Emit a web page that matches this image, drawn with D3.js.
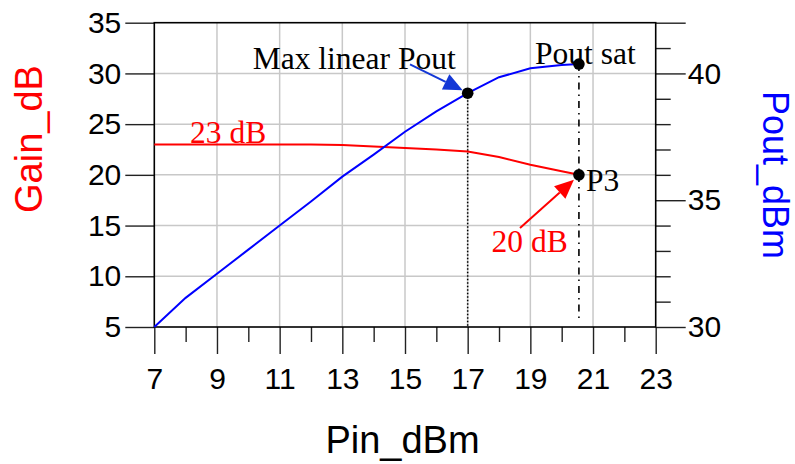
<!DOCTYPE html>
<html>
<head>
<meta charset="utf-8">
<script src="https://cdn.jsdelivr.net/npm/d3@7"></script>
<style>
  html, body { margin: 0; padding: 0; background: #fff; }
  svg { display: block; }
</style>
</head>
<body>
<svg id="chart" width="795" height="464"></svg>
<script>
// Input power sweep and the measured amplifier response
const pinDbm  = [7, 8, 9, 10, 11, 12, 13, 14, 15, 16, 17, 18, 19, 20, 20.55];
const gainDb  = [23.0, 23.0, 23.0, 23.0, 23.0, 23.0, 22.95, 22.8, 22.65, 22.5, 22.3, 21.75, 21.0, 20.35, 20.0];
const poutDbm = [30.0, 31.15, 32.1, 33.05, 34.0, 34.95, 35.93, 36.8, 37.7, 38.5, 39.22, 39.85, 40.2, 40.33, 40.37];

// Axis ticks
const xMajorTicks = [7, 9, 11, 13, 15, 17, 19, 21, 23];
const xMinorTicks = [8, 10, 12, 14, 16, 18, 20, 22];
const gainTicks   = [5, 10, 15, 20, 25, 30, 35];
const poutMajor   = [30, 35, 40, 42];
const poutLabeled = [30, 35, 40];
const poutMinor   = [31, 32, 33, 34, 36, 37, 38, 39, 41];

// Annotated operating points
const maxLinear = { pin: 17, pout: 39.22 };
const satPoint  = { pin: 20.55, pout: 40.37 };
const p3Point   = { pin: 20.55, gain: 20.0 };

const svg = d3.select("#chart");
const plotL = 154.3, plotR = 655.7, plotT = 22.7, plotB = 327;

const x = d3.scaleLinear().domain([7, 23]).range([plotL, plotR]);
const yGain = d3.scaleLinear().domain([5, 35]).range([plotB, plotT]);
const yPout = d3.scaleLinear().domain([30, 42]).range([plotB, plotT]);

const sans = "'Liberation Sans', Arial, sans-serif";
const serif = "'Liberation Serif', 'Times New Roman', serif";

// Grid
const grid = svg.append("g").attr("stroke", "#c8c8c8").attr("stroke-width", 1.5);
grid.selectAll("line.v").data(d3.range(9, 23, 2)).join("line").attr("class", "v")
  .attr("x1", d => x(d)).attr("x2", d => x(d)).attr("y1", plotT).attr("y2", plotB);
grid.selectAll("line.h").data([10, 15, 20, 25, 30]).join("line").attr("class", "h")
  .attr("y1", d => yGain(d)).attr("y2", d => yGain(d)).attr("x1", plotL).attr("x2", plotR);

function styleAxis(g, fontSize) {
  g.select(".domain").remove();
  g.selectAll(".tick line").attr("stroke", "#222").attr("stroke-width", 1.4);
  g.selectAll(".tick text").attr("fill", "#000").attr("font-family", sans).attr("font-size", fontSize);
  g.attr("font-size", null).attr("font-family", null);
}

// Bottom axis
svg.append("g").attr("transform", `translate(0,${plotB})`)
  .call(d3.axisBottom(x).tickValues(xMinorTicks).tickSize(15).tickFormat(""))
  .call(g => styleAxis(g, 30));
svg.append("g").attr("transform", `translate(0,${plotB})`)
  .call(d3.axisBottom(x).tickValues(xMajorTicks).tickSize(27).tickPadding(14).tickFormat(d3.format("d")))
  .call(g => styleAxis(g, 30));

// Left axis (gain)
svg.append("g").attr("transform", `translate(${plotL},0)`)
  .call(d3.axisLeft(yGain).tickValues(gainTicks).tickSize(29).tickPadding(4).tickFormat(d3.format("d")))
  .call(g => styleAxis(g, 30));

// Right axis (output power)
svg.append("g").attr("transform", `translate(${plotR},0)`)
  .call(d3.axisRight(yPout).tickValues(poutMinor).tickSize(15).tickFormat(""))
  .call(g => styleAxis(g, 30));
svg.append("g").attr("transform", `translate(${plotR},0)`)
  .call(d3.axisRight(yPout).tickValues(poutMajor).tickSize(30).tickPadding(2)
    .tickFormat(d => poutLabeled.includes(d) ? d3.format("d")(d) : ""))
  .call(g => styleAxis(g, 30));

// Frame
svg.append("rect").attr("x", plotL).attr("y", plotT)
  .attr("width", plotR - plotL).attr("height", plotB - plotT)
  .attr("fill", "none").attr("stroke", "#000").attr("stroke-width", 1.6);

// Reference verticals
svg.append("line")
  .attr("x1", x(maxLinear.pin)).attr("x2", x(maxLinear.pin))
  .attr("y1", yPout(maxLinear.pout)).attr("y2", plotB)
  .attr("stroke", "#000").attr("stroke-width", 1.5).attr("stroke-dasharray", "1.5,2");
svg.append("line")
  .attr("x1", x(satPoint.pin)).attr("x2", x(satPoint.pin))
  .attr("y1", yPout(satPoint.pout)).attr("y2", plotB - 8)
  .attr("stroke", "#000").attr("stroke-width", 1.6).attr("stroke-dasharray", "7,5,1.5,5");

// Curves
const pts = pinDbm.map((p, i) => ({ pin: p, gain: gainDb[i], pout: poutDbm[i] }));
svg.append("path").datum(pts)
  .attr("fill", "none").attr("stroke", "#ff0000").attr("stroke-width", 2)
  .attr("d", d3.line().x(d => x(d.pin)).y(d => yGain(d.gain)));
svg.append("path").datum(pts)
  .attr("fill", "none").attr("stroke", "#0000ff").attr("stroke-width", 2)
  .attr("d", d3.line().x(d => x(d.pin)).y(d => yPout(d.pout)));

// Arrows
function arrow(x1, y1, x2, y2, color, len, halfW) {
  const ang = Math.atan2(y2 - y1, x2 - x1);
  const bx = x2 - len * Math.cos(ang), by = y2 - len * Math.sin(ang);
  svg.append("line").attr("x1", x1).attr("y1", y1).attr("x2", bx).attr("y2", by)
    .attr("stroke", color).attr("stroke-width", 2);
  const px = -Math.sin(ang) * halfW, py = Math.cos(ang) * halfW;
  svg.append("polygon")
    .attr("points", `${x2},${y2} ${bx + px},${by + py} ${bx - px},${by - py}`)
    .attr("fill", color);
}
const mlx = x(maxLinear.pin), mly = yPout(maxLinear.pout);
arrow(410, 64.3, mlx - 5, mly - 3, "#1438d6", 19, 8.5);
const p3x = x(p3Point.pin), p3y = yGain(p3Point.gain);
arrow(520, 228, p3x - 5, p3y + 5, "#ff0000", 19, 8.5);

// Markers
svg.selectAll("circle.pt")
  .data([[mlx, mly], [x(satPoint.pin), yPout(satPoint.pout)], [p3x, p3y]])
  .join("circle").attr("class", "pt")
  .attr("cx", d => d[0]).attr("cy", d => d[1]).attr("r", 5.8).attr("fill", "#000");

// Annotation text
const ann = svg.append("g").attr("font-family", serif).attr("font-size", 31.5);
ann.append("text").attr("x", 252.7).attr("y", 69).attr("fill", "#000").text("Max linear Pout");
ann.append("text").attr("x", 535).attr("y", 64).attr("fill", "#000").text("Pout sat");
ann.append("text").attr("x", 586).attr("y", 190.5).attr("fill", "#000").text("P3");
ann.append("text").attr("x", 190).attr("y", 142.5).attr("fill", "#ff0000").text("23 dB");
ann.append("text").attr("x", 491.5).attr("y", 251.5).attr("fill", "#ff0000").text("20 dB");

// Axis titles
svg.append("text").attr("x", 402.5).attr("y", 453)
  .attr("text-anchor", "middle").attr("font-family", sans).attr("font-size", 38)
  .attr("fill", "#000").text("Pin_dBm");
svg.append("text").attr("transform", "translate(42,139) rotate(-90)")
  .attr("text-anchor", "middle").attr("font-family", sans).attr("font-size", 38)
  .attr("fill", "#ff0000").text("Gain_dB");
svg.append("text").attr("transform", "translate(763,175) rotate(90)")
  .attr("text-anchor", "middle").attr("font-family", sans).attr("font-size", 36)
  .attr("fill", "#0000ff").text("Pout_dBm");
</script>
</body>
</html>
